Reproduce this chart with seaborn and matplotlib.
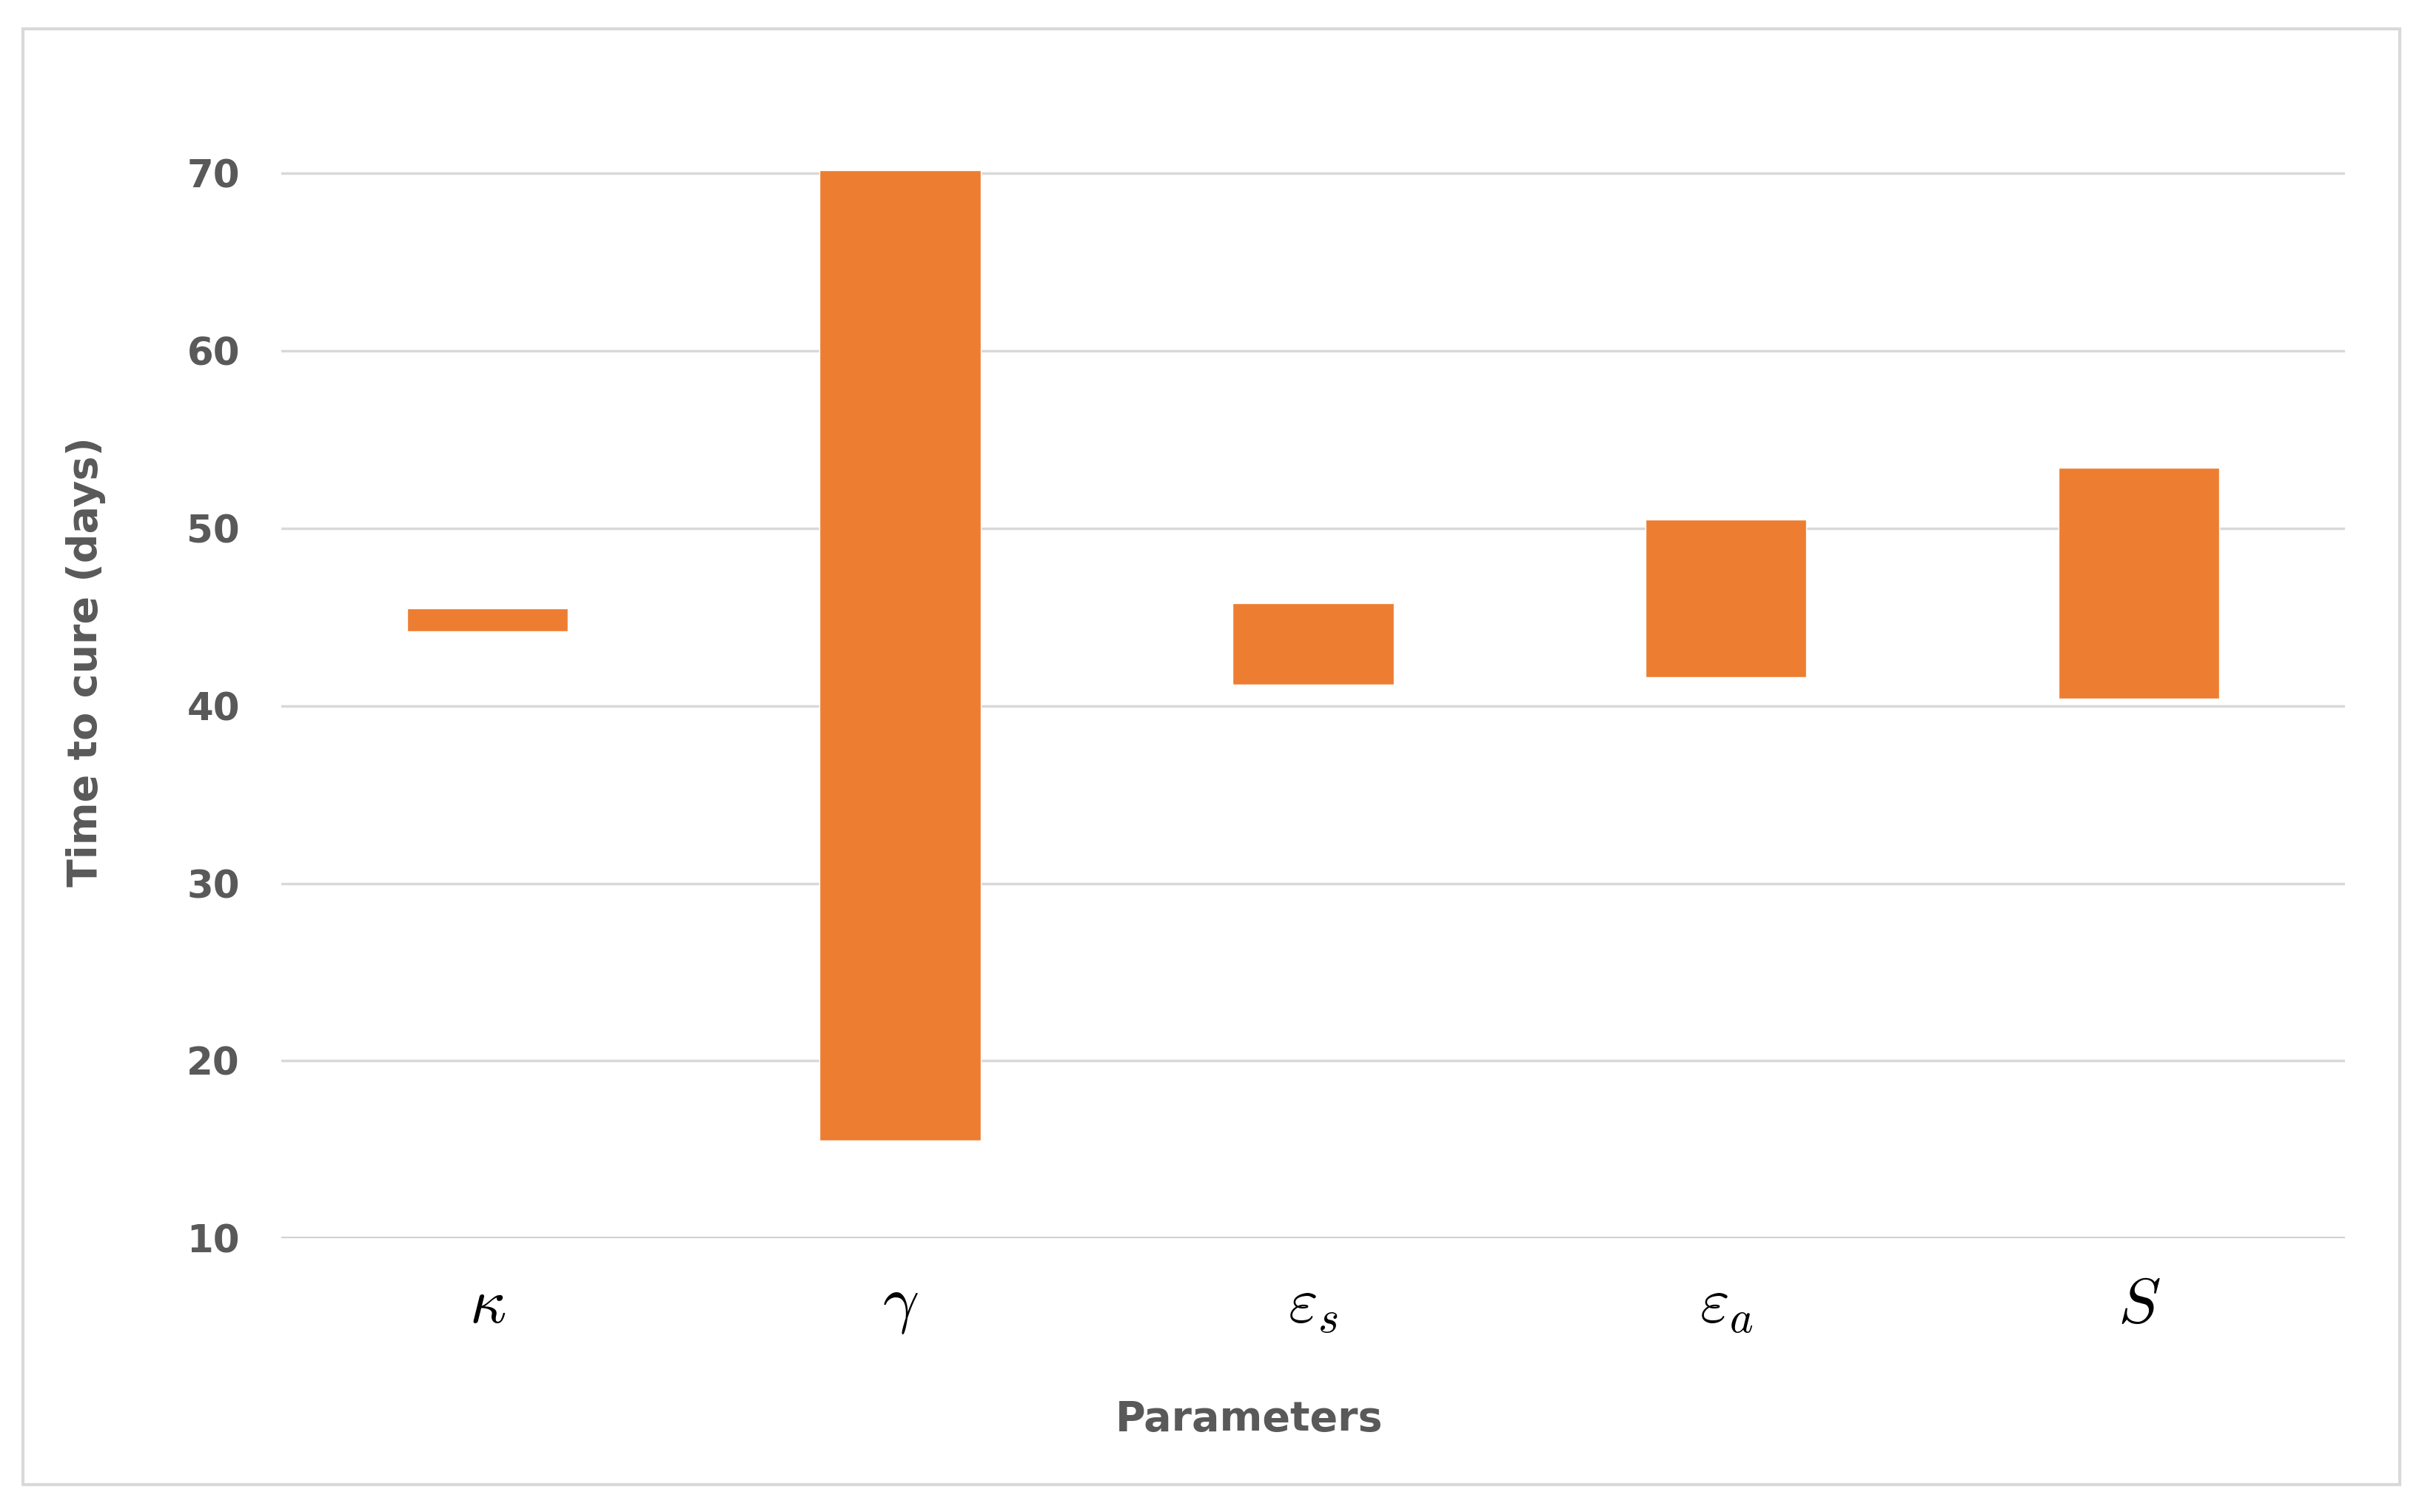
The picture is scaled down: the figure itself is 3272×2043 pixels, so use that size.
import matplotlib
matplotlib.use('Agg')
import matplotlib.pyplot as plt
import seaborn as sns
import pandas as pd

# floating bars: low and high time to cure per parameter
params = [r'$\kappa$', r'$\gamma$', r'$\varepsilon_s$', r'$\varepsilon_a$', r'$S$']
low = [44.2, 15.5, 41.2, 41.6, 40.4]
high = [45.5, 70.2, 45.8, 50.5, 53.4]

df = pd.DataFrame({'param': params, 'low': low, 'high': high})
df['span'] = df['high'] - df['low']

sns.set_style('white')
plt.rcParams['font.family'] = ['DejaVu Sans']
plt.rcParams['mathtext.fontset'] = 'cm'

fig = plt.figure(figsize=(32.73, 20.43), dpi=100)
ax = fig.add_axes([0.116, 0.181, 0.852, 0.763])

sns.barplot(data=df, x='param', y='span', bottom=df['low'], color='#ED7D31',
            saturation=1, width=0.39, ax=ax, zorder=3)

ax.set_ylim(10, 75)
ax.set_yticks(range(10, 71, 10))
ax.grid(axis='y', color='#D9D9D9', linewidth=2.5, zorder=0)
for s in ax.spines.values():
    s.set_visible(False)
ax.axhline(10, color='#CFCFCF', linewidth=3.5, zorder=1)
ax.tick_params(axis='y', length=0, pad=40, labelsize=37, labelcolor='#595959')
ax.tick_params(axis='x', length=0, pad=35, labelsize=62, labelcolor='#000000')
for t in ax.get_yticklabels():
    t.set_fontweight('bold')
ax.set_xlabel('Parameters', fontsize=40, fontweight='bold', color='#595959')
ax.set_ylabel('Time to cure (days)', fontsize=40, fontweight='bold', color='#595959')
ax.xaxis.set_label_coords(0.469, -0.14)
ax.yaxis.set_label_coords(-0.085, 0.5)

# light outer frame
fig.patches.append(plt.Rectangle((0.0096, 0.018), 0.981, 0.963, transform=fig.transFigure,
                                 fill=False, edgecolor='#D9D9D9', linewidth=3))

fig.savefig('out.png', dpi=100, facecolor='white')
